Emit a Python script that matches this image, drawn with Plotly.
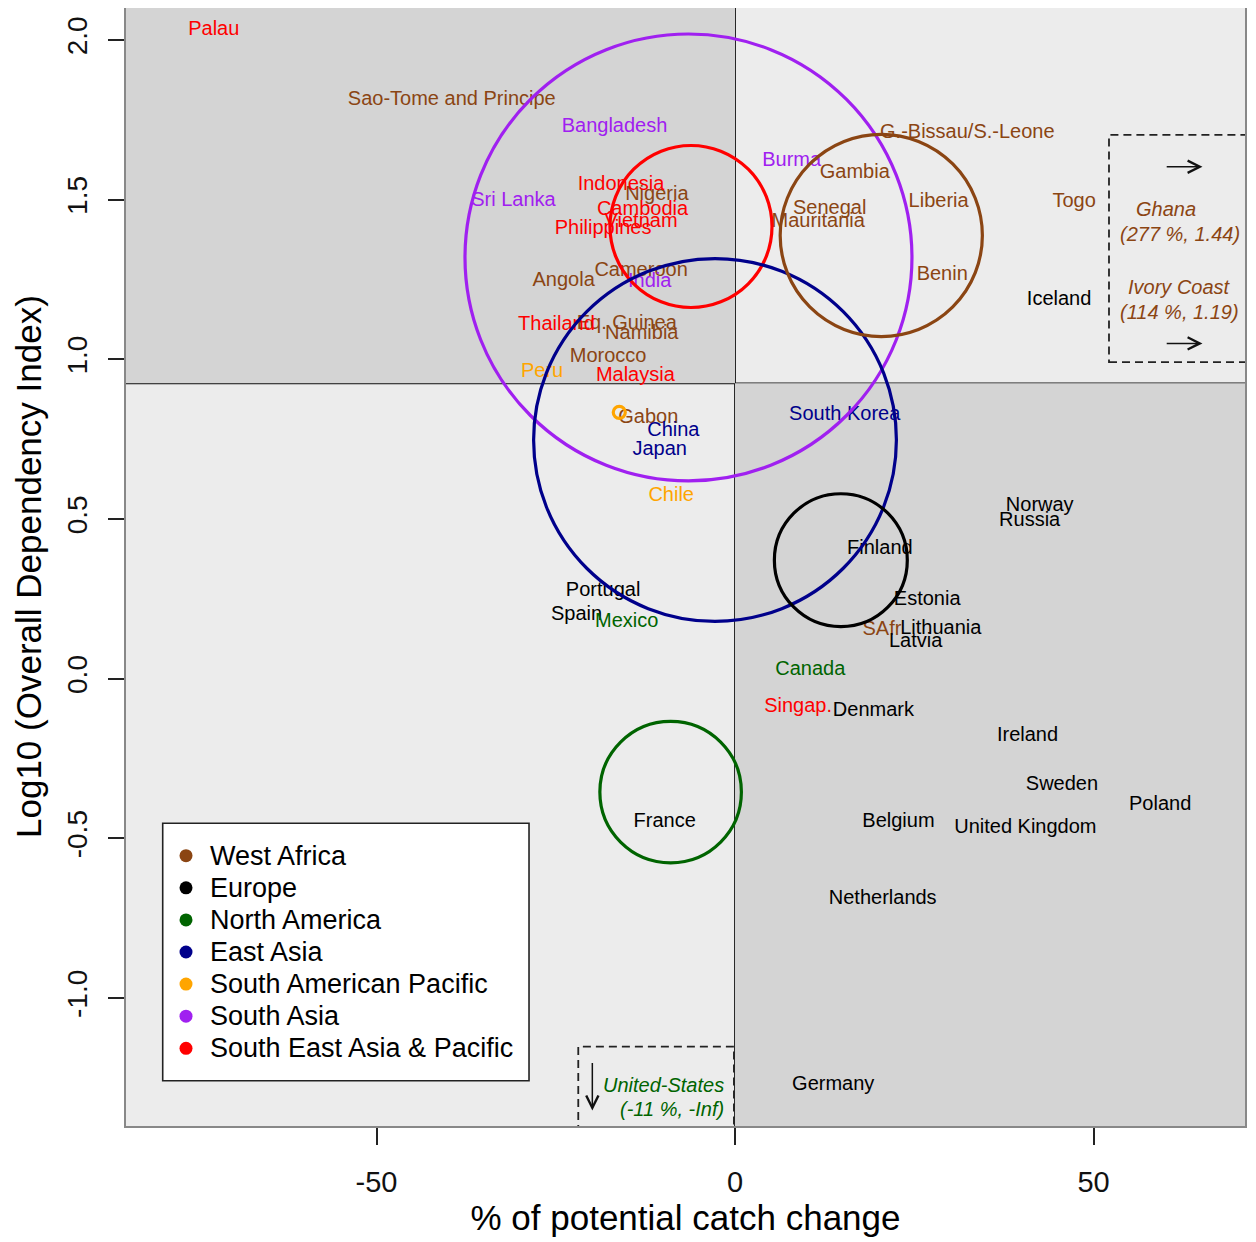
import plotly.graph_objects as go

# ---------------- data ----------------
regions = ["West Africa", "Europe", "North America", "East Asia",
           "South American Pacific", "South Asia", "South East Asia & Pacific"]
region_colors = ["#8B4513", "#000000", "#006400", "#00008B",
                 "#FFA500", "#A020F0", "#FF0000"]

countries = [
    # West Africa
    "Sao-Tome and Principe", "G.-Bissau/S.-Leone", "Gambia", "Nigeria", "Senegal",
    "Mauritania", "Liberia", "Benin", "Togo", "Angola", "Cameroon", "Eq. Guinea",
    "Namibia", "Morocco", "Gabon", "SAfr",
    # Europe
    "Iceland", "Norway", "Russia", "Finland", "Estonia", "Lithuania", "Latvia",
    "Portugal", "Spain", "Denmark", "Ireland", "Sweden", "Poland", "Belgium",
    "United Kingdom", "France", "Netherlands", "Germany",
    # North America
    "Mexico", "Canada",
    # East Asia
    "South Korea", "China", "Japan",
    # South American Pacific
    "Peru", "Chile",
    # South Asia
    "Bangladesh", "Sri Lanka", "Burma", "India",
    # South East Asia & Pacific
    "Palau", "Indonesia", "Cambodia", "Vietnam", "Philippines", "Thailand",
    "Malaysia", "Singap.", "Australia",
]
catch_change = [
    -39.5, 32.4, 16.7, -10.9, 13.2,
    11.6, 28.4, 28.9, 47.3, -23.9, -13.1, -15.1,
    -13.0, -17.7, -12.1, 20.5,
    45.2, 42.5, 41.1, 20.2, 26.8, 28.7, 25.2,
    -18.4, -22.1, 19.3, 40.8, 45.6, 59.3, 22.8,
    40.5, -9.8, 20.6, 13.7,
    -15.1, 10.5,
    15.3, -8.6, -10.5,
    -26.9, -8.9,
    -16.8, -30.9, 7.9, -11.9,
    -72.7, -15.9, -12.9, -13.1, -18.4, -24.9,
    -13.9, 8.8, -17.3,
]
dependency = [
    1.812, 1.709, 1.584, 1.514, 1.472,
    1.430, 1.493, 1.265, 1.493, 1.245, 1.276, 1.112,
    1.078, 1.008, 0.817, 0.154,
    1.185, 0.541, 0.493, 0.407, 0.246, 0.157, 0.115,
    0.274, 0.201, -0.102, -0.179, -0.334, -0.396, -0.449,
    -0.469, -0.449, -0.689, -1.273,
    0.178, 0.027,
    0.825, 0.775, 0.717,
    0.961, 0.572,
    1.727, 1.495, 1.621, 1.243,
    2.031, 1.545, 1.467, 1.430, 1.408, 1.109,
    0.947, -0.088, -0.139,
]
country_region = (["West Africa"] * 16 + ["Europe"] * 18 + ["North America"] * 2
                  + ["East Asia"] * 3 + ["South American Pacific"] * 2
                  + ["South Asia"] * 4 + ["South East Asia & Pacific"] * 8)

# group circles (centre and radius, radius in x units)
circle_region = ["South Asia", "South East Asia & Pacific", "East Asia", "West Africa",
                 "Europe", "North America", "South American Pacific"]
circle_x = [-6.49, -6.14, -2.79, 20.4, 14.76, -8.98, -16.14]
circle_y = [1.319, 1.416, 0.7475, 1.388, 0.371, -0.355, 0.834]
circle_r = [31.17, 11.3, 25.3, 14.1, 9.27, 9.87, 0.84]

# thresholds separating the quadrants
x_threshold = 0.0
y_threshold = 0.925

# out-of-range countries
off_notes = [
    {"text": "Ghana", "x": 60.1, "y": 1.472, "region": "West Africa", "anchor": "center"},
    {"text": "(277 %, 1.44)", "x": 62.06, "y": 1.394, "region": "West Africa", "anchor": "center"},
    {"text": "Ivory Coast", "x": 62.06, "y": 1.227, "region": "West Africa", "anchor": "center"},
    {"text": "(114 %, 1.19)", "x": 62.06, "y": 1.149, "region": "West Africa", "anchor": "center"},
    {"text": "United-States", "x": -1.2, "y": -1.273, "region": "North America", "anchor": "right"},
    {"text": "(-11 %, -Inf)", "x": -1.2, "y": -1.348, "region": "North America", "anchor": "right"},
]

x_ticks = [-50, 0, 50]
x_ticktext = ["-50", "0", "50"]
y_ticks = [-1.0, -0.5, 0.0, 0.5, 1.0, 1.5, 2.0]
y_ticktext = ["-1.0", "-0.5", "0.0", "0.5", "1.0", "1.5", "2.0"]

x_range = [-84.94, 71.13]
y_range = [-1.4007, 2.1002]

# ---------------- layout geometry ----------------
# the page body adds an 8px offset, so margins are reduced by that amount
W, H = 1248, 1242
ML, MR, MT, MB = 118, 11, 0, 124
plot_w = W - ML - MR
plot_h = H - MT - MB
px_per_x = plot_w / (x_range[1] - x_range[0])
px_per_y = plot_h / (y_range[1] - y_range[0])
r_to_y = px_per_x / px_per_y

FONT = "Liberation Sans, Arial, sans-serif"
color_of = dict(zip(regions, region_colors))

fig = go.Figure()

# country labels
for reg in regions:
    idx = [i for i, r in enumerate(country_region) if r == reg]
    if not idx:
        continue
    fig.add_trace(go.Scatter(
        x=[catch_change[i] for i in idx],
        y=[dependency[i] for i in idx],
        text=[countries[i] for i in idx],
        mode="text",
        textposition="middle center",
        textfont=dict(family=FONT, size=20, color=color_of[reg]),
        showlegend=False,
        hoverinfo="text",
    ))

shapes = []
# quadrant shading
shapes.append(dict(type="rect", xref="x", yref="y", x0=x_range[0] - 5, x1=x_threshold,
                   y0=y_threshold, y1=y_range[1] + 1, fillcolor="#d4d4d4",
                   line=dict(width=0), layer="below"))
shapes.append(dict(type="rect", xref="x", yref="y", x0=x_threshold, x1=x_range[1] + 5,
                   y0=y_range[0] - 1, y1=y_threshold, fillcolor="#d4d4d4",
                   line=dict(width=0), layer="below"))
# threshold lines
shapes.append(dict(type="line", xref="x", yref="paper", x0=x_threshold, x1=x_threshold,
                   y0=0, y1=1, line=dict(color="#111111", width=1.8), layer="below"))
shapes.append(dict(type="line", xref="paper", yref="y", x0=0, x1=1,
                   y0=y_threshold, y1=y_threshold, line=dict(color="#111111", width=1.8),
                   layer="below"))

# group circles
for reg, cx, cy, r in zip(circle_region, circle_x, circle_y, circle_r):
    ry = r * r_to_y
    shapes.append(dict(type="circle", xref="x", yref="y",
                       x0=cx - r, x1=cx + r, y0=cy - ry, y1=cy + ry,
                       line=dict(color=color_of[reg], width=3.2), layer="above"))

# dashed boxes for off-scale countries
shapes.append(dict(type="rect", xref="x", yref="y", x0=52.16, x1=x_range[1] + 3,
                   y0=0.991, y1=1.703, line=dict(color="#222222", width=1.8, dash="8px,5px"),
                   fillcolor="rgba(0,0,0,0)", layer="above"))
shapes.append(dict(type="rect", xref="x", yref="y", x0=-21.86, x1=-0.15,
                   y0=y_range[0] - 0.2, y1=-1.152,
                   line=dict(color="#222222", width=1.8, dash="8px,5px"),
                   fillcolor="rgba(0,0,0,0)", layer="above"))

# legend box
leg_x0, leg_x1, leg_top, leg_bot = -79.82, -28.73, -0.4528, -1.2589
shapes.append(dict(type="rect", xref="x", yref="y", x0=leg_x0, x1=leg_x1,
                   y0=leg_bot, y1=leg_top, fillcolor="white",
                   line=dict(color="#222222", width=1.6), layer="below"))

annotations = []
# legend entries
row0 = -0.5543
row_step = 32.1 / px_per_y
dot_x = -76.57
text_x = -73.45
fig.add_trace(go.Scatter(
    x=[dot_x] * len(regions),
    y=[row0 - i * row_step for i in range(len(regions))],
    mode="markers",
    marker=dict(size=13, color=region_colors, line=dict(width=0)),
    showlegend=False, hoverinfo="skip",
))
for i, reg in enumerate(regions):
    annotations.append(dict(x=text_x, y=row0 - i * row_step, xref="x", yref="y",
                            text=reg, showarrow=False, xanchor="left", yanchor="middle",
                            font=dict(family=FONT, size=27, color="black")))

# off-scale notes
for n in off_notes:
    annotations.append(dict(x=n["x"], y=n["y"], xref="x", yref="y",
                            text="<i>" + n["text"] + "</i>", showarrow=False,
                            xanchor=n["anchor"], yanchor="middle",
                            font=dict(family=FONT, size=20, color=color_of[n["region"]])))

# arrows
arrow_specs = [
    (65.2, 1.603, 60.0, 1.603),
    (65.2, 1.050, 60.0, 1.050),
    (-19.9, -1.352, -19.9, -1.199),
]
for hx, hy, tx, ty in arrow_specs:
    annotations.append(dict(x=hx, y=hy, ax=tx, ay=ty, xref="x", yref="y",
                            axref="x", ayref="y", text="", showarrow=True,
                            arrowhead=5, arrowsize=1.6, arrowwidth=1.5,
                            arrowcolor="#111111"))

# y axis title
annotations.append(dict(x=-98 / plot_w, y=0.5, xref="paper", yref="paper",
                        text="Log10 (Overall Dependency Index)", showarrow=False,
                        textangle=-90, xanchor="center", yanchor="middle",
                        font=dict(family=FONT, size=35, color="black")))

fig.update_layout(
    width=W, height=H,
    margin=dict(l=ML, r=MR, t=MT, b=MB, pad=0),
    paper_bgcolor="white",
    plot_bgcolor="#ececec",
    shapes=shapes,
    annotations=annotations,
    showlegend=False,
    font=dict(family=FONT, color="#111111"),
    xaxis=dict(range=x_range, tickvals=x_ticks, ticktext=x_ticktext,
               ticks="outside", ticklen=17, tickwidth=1.5, tickcolor="#222222",
               showgrid=False, zeroline=False, showline=True, mirror=True,
               linecolor="#888888", linewidth=1.5,
               tickfont=dict(family=FONT, size=29, color="#111111"),
               ticklabelstandoff=12, automargin=False,
               title=dict(text="% of potential catch change", standoff=8,
                          font=dict(family=FONT, size=35, color="black"))),
    yaxis=dict(range=y_range, tickvals=y_ticks, ticktext=y_ticktext,
               ticks="outside", ticklen=16, tickwidth=1.5, tickcolor="#222222",
               showgrid=False, zeroline=False, showline=True, mirror=True,
               linecolor="#888888", linewidth=1.5, tickangle=-90,
               tickfont=dict(family=FONT, size=28, color="#111111"),
               ticklabelstandoff=10, automargin=False),
)

fig.write_html("out.html")
